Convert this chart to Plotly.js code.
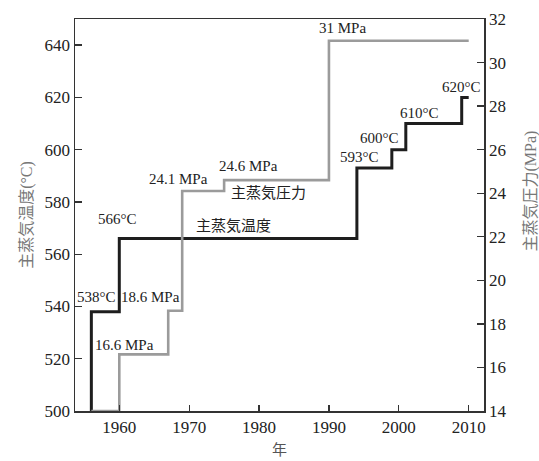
<!DOCTYPE html>
<html>
<head>
<meta charset="utf-8">
<script src="https://cdn.plot.ly/plotly-3.0.1.min.js"></script>
<style>html,body{margin:0;padding:0;background:#fff;}#chart{width:539px;height:461px;}</style>
</head>
<body>
<div id="chart"></div>
<script>
// Main steam temperature steps (°C)
var tempYears = [1956, 1956, 1960, 1994, 1999, 2001, 2009, 2010];
var tempValues = [500, 538, 566, 593, 600, 610, 620, 620];
// Main steam pressure steps (MPa)
var presYears = [1956, 1960, 1967, 1969, 1975, 1990, 2010];
var presValues = [14, 16.6, 18.6, 24.1, 24.6, 31, 31];
// Tick values
var xTicks = [1960, 1970, 1980, 1990, 2000, 2010];
var yTicks = [500, 520, 540, 560, 580, 600, 620, 640];
var y2Ticks = [14, 16, 18, 20, 22, 24, 26, 28, 30, 32];
// Labels
var labelTexts = ["538°C", "18.6 MPa", "16.6 MPa", "566°C", "24.1 MPa", "24.6 MPa", "主蒸気圧力", "主蒸気温度", "31 MPa", "593°C", "600°C", "610°C", "620°C"];
var labelX = [1956.8, 1964.4, 1960.8, 1959.8, 1968.5, 1978.5, 1981.4, 1976.3, 1992.0, 1994.4, 1997.3, 2003.0, 2008.9];
var labelY = [543.8, 543.8, 525.4, 573.5, 588.8, 593.8, 583.5, 570.9, 646.4, 597.2, 604.5, 614.0, 623.9];

var serif = "Liberation Serif, Times New Roman, Noto Sans CJK JP, serif";
var cjk = "Liberation Serif, Noto Sans CJK JP, sans-serif";

var traces = [
  {x: presYears, y: presValues, yaxis: 'y2', type: 'scatter', mode: 'lines',
   line: {shape: 'hv', color: '#9b9b9b', width: 2.6}, cliponaxis: false, hoverinfo: 'skip'},
  {x: tempYears, y: tempValues, type: 'scatter', mode: 'lines',
   line: {shape: 'hv', color: '#1e1e1e', width: 3}, cliponaxis: false, hoverinfo: 'skip'}
];

var annotations = labelTexts.map(function(t, i) {
  return {x: labelX[i], y: labelY[i], xref: 'x', yref: 'y', text: t, showarrow: false,
          xanchor: 'center', yanchor: 'middle',
          font: {family: cjk, size: 15, color: '#222'}};
});
annotations.push({xref: 'paper', yref: 'paper', x: 1.115, y: 0.56, text: '主蒸気圧力(MPa)',
  textangle: -90, showarrow: false, xanchor: 'center', yanchor: 'middle',
  font: {family: cjk, size: 16, color: '#777'}});

var layout = {
  width: 539, height: 461,
  margin: {l: 75, r: 55, t: 19, b: 50},
  paper_bgcolor: '#fff', plot_bgcolor: '#fff',
  showlegend: false,
  xaxis: {range: [1953.66, 2012.19], tickvals: xTicks, ticks: 'inside', ticklen: 6,
    tickwidth: 1.3, tickcolor: '#333', showline: true, linecolor: '#333', linewidth: 1.5,
    mirror: true, showgrid: false, zeroline: false,
    tickfont: {family: serif, size: 17, color: '#222'},
    title: {text: '年', font: {family: cjk, size: 15, color: '#555'}, standoff: 8}},
  yaxis: {range: [500, 650], tickvals: yTicks, ticks: 'inside', ticklen: 7,
    tickwidth: 1.3, tickcolor: '#333', showline: true, linecolor: '#333', linewidth: 1.5,
    showgrid: false, zeroline: false,
    tickfont: {family: serif, size: 17, color: '#222'},
    title: {text: '主蒸気温度(°C)', font: {family: cjk, size: 16, color: '#777'}, standoff: 8}},
  yaxis2: {range: [14, 32], tickvals: y2Ticks, overlaying: 'y', side: 'right', ticks: 'inside',
    ticklen: 7, tickwidth: 1.3, tickcolor: '#333', showline: true, linecolor: '#333',
    linewidth: 1.5, showgrid: false, zeroline: false,
    tickfont: {family: serif, size: 17, color: '#222'}},
  annotations: annotations
};

Plotly.newPlot('chart', traces, layout, {staticPlot: true, displayModeBar: false});
</script>
</body>
</html>
